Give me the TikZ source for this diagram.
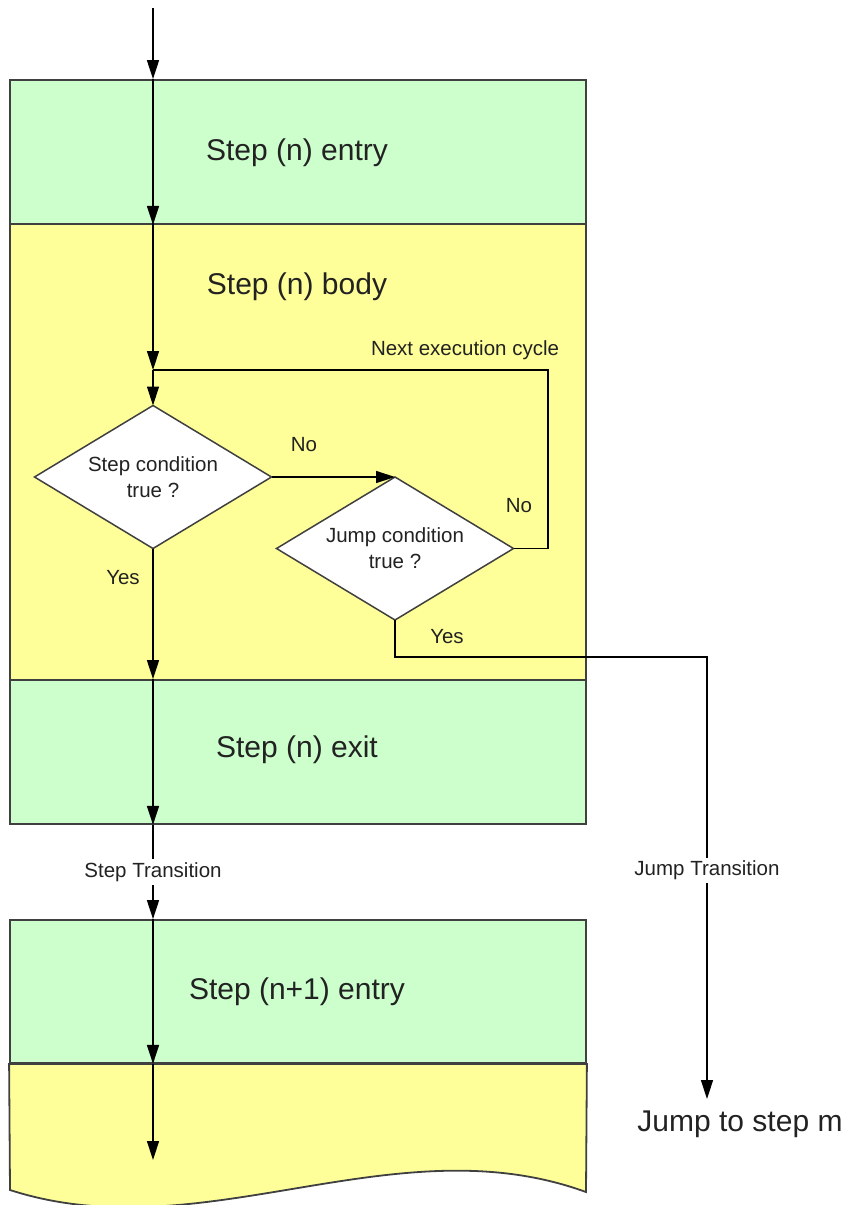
\documentclass[tikz,border=0pt]{standalone}
\usepackage{fontspec}
\setmainfont{Liberation Sans}
\usetikzlibrary{arrows.meta,shapes.geometric}
\definecolor{stepgreen}{HTML}{CCFFCC}
\definecolor{stepyellow}{HTML}{FFFF99}
\definecolor{edgegray}{HTML}{404040}
\definecolor{txt}{HTML}{222222}
\tikzset{
  stepbox/.style={draw=edgegray, line width=1.8pt, minimum width=576pt, inner sep=0pt},
  bigtxt/.style={text=txt, font=\fontsize{30}{36}\selectfont, inner sep=0pt},
  smalltxt/.style={text=txt, font=\fontsize{20.5}{26}\selectfont, inner sep=0pt, align=center},
  decision/.style={shape=diamond, draw=edgegray, line width=1.5pt, fill=white, inner sep=0pt,
    shape aspect=1.657, outer sep=0pt,
    minimum width=237pt, minimum height=143pt, text=txt, font=\fontsize{20.5}{26}\selectfont, align=center},
  arr/.style={draw=black, line width=1.4pt, -{Triangle[length=19pt,width=12pt]}},
  conn/.style={draw=black, line width=1.4pt},
  lbl/.style={smalltxt, fill=white, inner sep=3pt}
}
\begin{document}
\begin{tikzpicture}[x=1pt,y=-1pt]
\useasboundingbox (0,0) rectangle (853,1205);
% boxes
\node[stepbox, fill=stepgreen, minimum height=144pt] (entry) at (298,152) {};
\node[stepbox, fill=stepyellow, minimum height=456pt] (body) at (298,452) {};
\node[stepbox, fill=stepgreen, minimum height=144pt] (exit) at (298,752) {};
\node[stepbox, fill=stepgreen, minimum height=143pt] (next) at (298,991.5) {};
% wavy bottom box
\path[draw=edgegray, line width=1.8pt, fill=stepyellow]
  (next.south west) -- (next.south east) -- (586,1192)
  .. controls (394,1122) and (202,1252) .. (10,1190) -- cycle;
% box texts
\node[bigtxt] (tentry) at (297,153) {Step (n) entry};
\node[bigtxt] (tbody) at (297,287) {Step (n) body};
\node[bigtxt] (texit) at (297,750) {Step (n) exit};
\node[bigtxt] (tnext) at (297,992) {Step (n+1) entry};
% decisions
\node[decision] (d1) at (153,477) {Step condition\\true ?};
\node[decision] (d2) at (395,548.5) {Jump condition\\true ?};
% coordinates
\coordinate (start) at (153,8);
\coordinate (loop) at (153,370);
\coordinate (loopR) at (548,370);
\coordinate (jc) at (707,657);
\coordinate (jend) at (707,1099);
\coordinate (send) at (153,1160);
% main flow
\draw[arr] (start) -- (entry.north -| start);
\draw[arr] (entry.north -| start) -- (entry.south -| start);
\draw[arr] (body.north -| start) -- (loop);
\draw[arr] (loop) -- (d1.north);
\draw[arr] (d1.east) -- (d1.east -| d2.north);
\draw[conn] (d2.east) -| (loopR) -- (loop);
\draw[arr] (d1.south) -- (exit.north -| d1.south);
\draw[arr] (exit.north -| d1.south) -- (exit.south -| d1.south);
\draw[arr] (exit.south -| d1.south) -- node[lbl, pos=0.5] (lstep) {Step Transition} (next.north -| d1.south);
\draw[arr] (next.north -| d1.south) -- (next.south -| d1.south);
\draw[arr] (next.south -| d1.south) -- (send);
\draw[arr] (d2.south) |- (jc) -- node[lbl, pos=0.483] (ljump) {Jump Transition} (jend);
% labels
\node[smalltxt] (lnext) at (465,350) {Next execution cycle};
\node[smalltxt] (lno1) at (304,445) {No};
\node[smalltxt] (lno2) at (519,506) {No};
\node[smalltxt] (lyes1) at (123,578) {Yes};
\node[smalltxt] (lyes2) at (447,637) {Yes};
\node[bigtxt] (ljumpto) at (740,1124) {Jump to step m};
\end{tikzpicture}
\end{document}
